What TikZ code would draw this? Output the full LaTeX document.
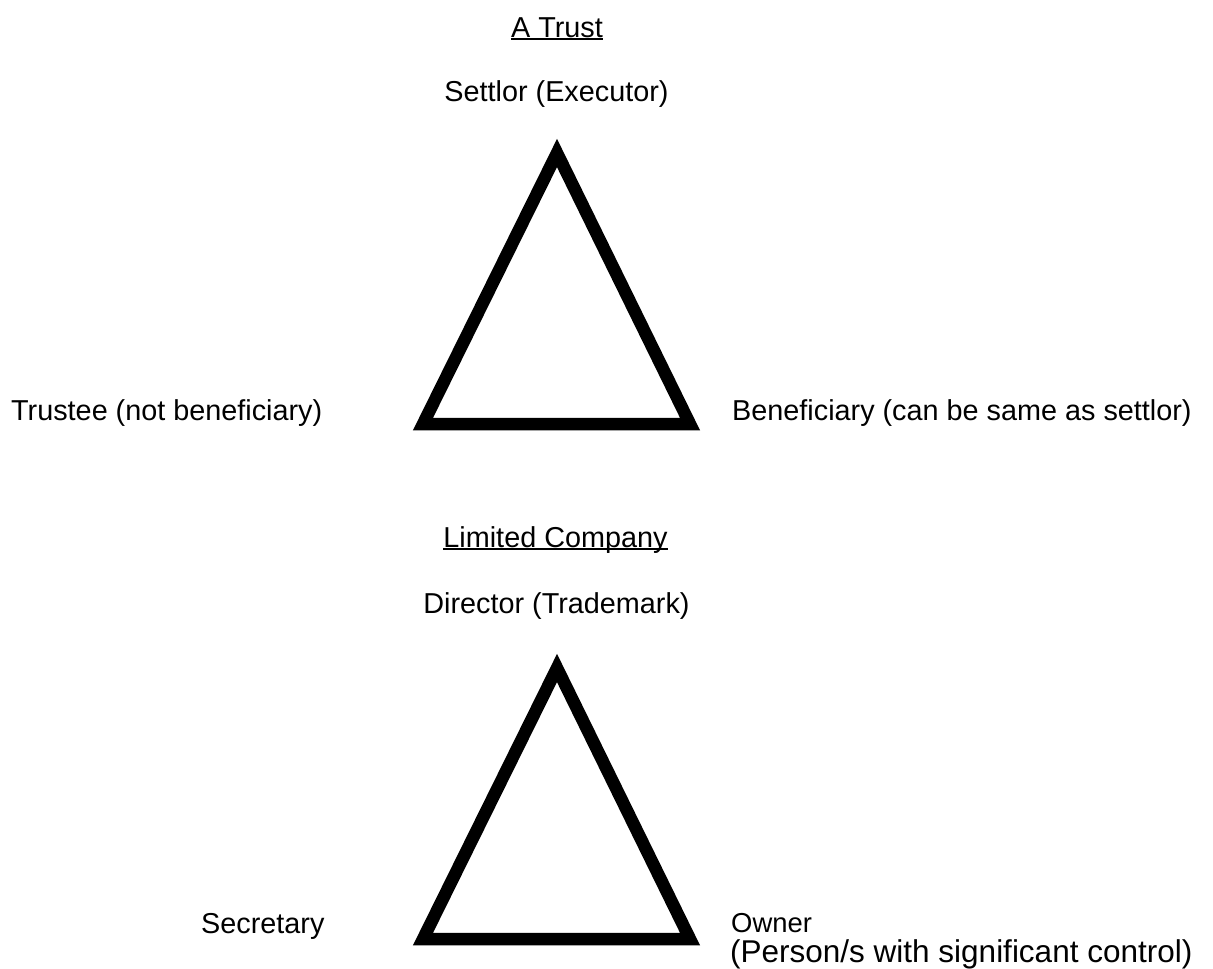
\documentclass[tikz,border=0pt]{standalone}
\usepackage{fontspec}
\setmainfont{Liberation Sans}
\usetikzlibrary{positioning}

\newcommand{\ultitle}[1]{\setbox0\hbox{#1}\rlap{\rule[-3pt]{\wd0}{1.6pt}}\box0}

\begin{document}
\begin{tikzpicture}[x=1pt, y=-1pt,
    every node/.style={inner sep=0pt, font=\fontsize{28.8}{34}\selectfont},
    tri/.style={draw, line width=12.5pt, line join=miter}]
    \useasboundingbox (0,0) rectangle (1213,969);
    % a trust
    \node[anchor=base] (trust) at (557,37) {\ultitle{A Trust}};
    \node[anchor=base] (settlor) at (556.5,101) {Settlor (Executor)};
    \node[anchor=base west] (trustee) at (11,420) {Trustee (not beneficiary)};
    \node[anchor=base west] (beneficiary) at (732,420) {Beneficiary (can be same as settlor)};
    \draw[tri] (557,153) -- (423,424) -- (690,424) -- cycle;
    % limited company
    \node[anchor=base] (company) at (555.5,547) {\ultitle{Limited Company}};
    \node[anchor=base] (director) at (556.5,613) {Director (Trademark)};
    \node[anchor=base west] (secretary) at (201,933) {Secretary};
    \node[anchor=base west, font=\fontsize{27.4}{32}\selectfont] (owner) at (731,932) {Owner};
    \node[anchor=base west, font=\fontsize{31.5}{36}\selectfont] (control) at (730,962) {(Person/s with significant control)};
    \draw[tri] (557,668) -- (423,939) -- (690,939) -- cycle;
\end{tikzpicture}
\end{document}
